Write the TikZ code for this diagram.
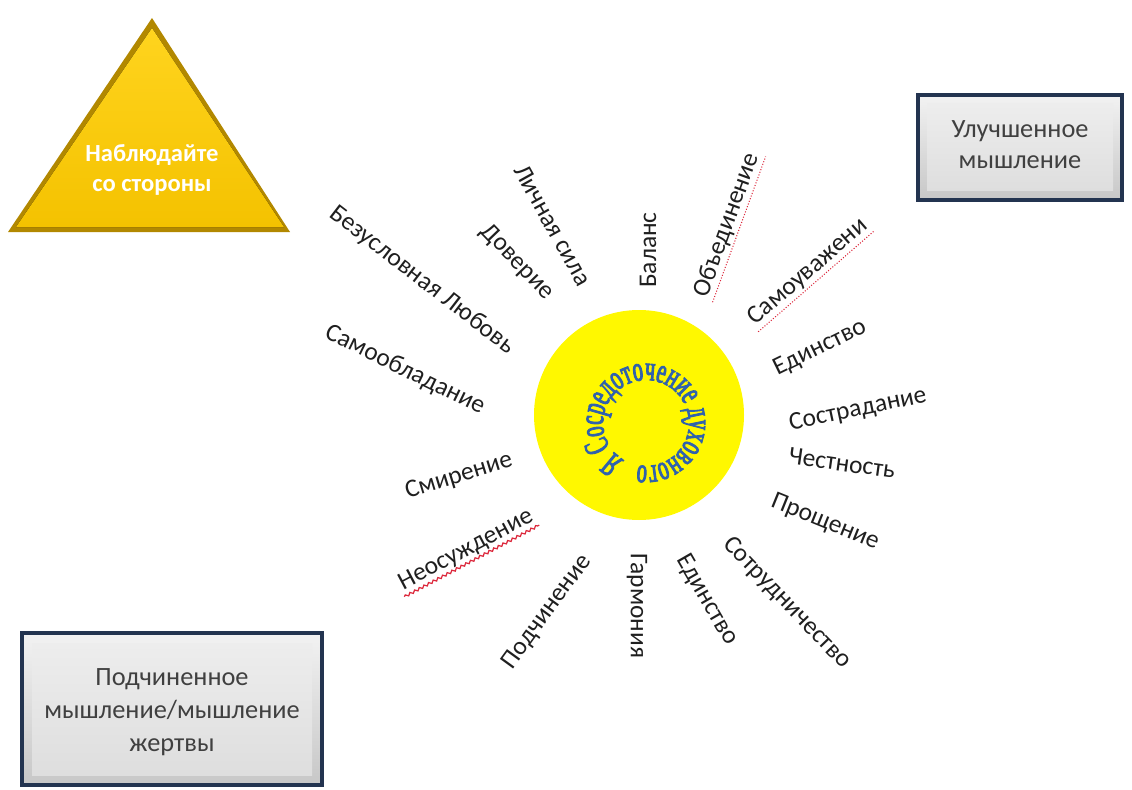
\documentclass[tikz,border=0pt]{standalone}
\usepackage{fontspec}
\setmainfont{Carlito}
\newfontfamily\circfont[FakeStretch=0.58,FakeBold=2.6]{Liberation Serif}
\usetikzlibrary{decorations.text,decorations.pathmorphing,calc}
\definecolor{gold}{RGB}{244,194,0}
\definecolor{goldlight}{RGB}{255,212,30}
\definecolor{golddark}{RGB}{178,136,0}
\definecolor{navy}{RGB}{35,52,80}
\definecolor{boxtext}{RGB}{64,64,64}
\definecolor{circblue}{RGB}{48,98,172}
\definecolor{sunyellow}{RGB}{255,248,0}
\definecolor{spellred}{RGB}{220,40,60}
\begin{document}
\begin{tikzpicture}[x=0.02cm,y=0.02cm,
  word/.style={font=\fontsize{14.5}{17}\selectfont, text=black!88, inner sep=1pt},
  boxtxt/.style={font=\fontsize{15}{17.5}\selectfont, text=boxtext, align=center},
  tritxt/.style={font=\bfseries\fontsize{14}{17}\selectfont, text=white, align=center},
  spelldot/.style={spellred, densely dotted, line width=0.6pt},
  spellwave/.style={spellred, line width=0.7pt, decorate, decoration={snake, amplitude=0.7pt, segment length=3pt}},
  bevelbox/.style={draw=navy, line width=2.4pt, top color=white!95!black, bottom color=black!22},
  boxface/.style={fill=black!10, top color=black!7, bottom color=black!13}]
\useasboundingbox (0,0) rectangle (1132,789);

% triangle
\coordinate (tA) at (152,771);
\coordinate (tB) at (8,557);
\coordinate (tC) at (290,557);
\fill[golddark] (tA) -- (tB) -- (tC) -- cycle;
\fill[top color=goldlight, bottom color=gold] (152,761) -- (16,562) -- (284,562) -- cycle;
\node[tritxt] (tri) at (152,619) {Наблюдайте\\со стороны};

% top right box
\draw[bevelbox] (918,589) rectangle (1122,694);
\fill[boxface] (927,598) rectangle (1113,685);
\draw[navy, line width=2.4pt] (918,589) rectangle (1122,694);
\node[boxtxt] (better) at (1020,644) {Улучшенное\\мышление};

% bottom left box
\draw[bevelbox] (22,4) rectangle (322,156);
\fill[boxface] (32,14) rectangle (312,146);
\draw[navy, line width=2.4pt] (22,4) rectangle (322,156);
\node[boxtxt, font=\fontsize{15}{18.7}\selectfont] (victim) at (172,77) {Подчиненное\\мышление/мышление\\жертвы};

% sun
\coordinate (C) at (639,374);
\coordinate (T) at (646,366);
\fill[sunyellow] (C) circle[radius=105];
\path[decorate, decoration={text along path, text align=center,
  text={|\circfont\fontsize{20}{20}\selectfont\color{circblue}|Я Сосредоточение духовного}}]
  (T) ++(244:43) arc[start angle=244, end angle=-106, radius=43];

% words
\node[word, rotate=90]    (w1)  at (648,539) {Баланс};
\node[word, rotate=70]    (w2)  at (727,564) {Объединение};
\node[word, rotate=41]    (w3)  at (808,517) {Самоуважени};
\node[word, rotate=26]    (w4)  at (820,441) {Единство};
\node[word, rotate=12]    (w5)  at (858,379) {Сострадание};
\node[word, rotate=-8]    (w6)  at (842,326) {Честность};
\node[word, rotate=-22]   (w7)  at (825,267) {Прощение};
\node[word, rotate=-46]   (w8)  at (787,186) {Сотрудничество};
\node[word, rotate=-60]   (w9)  at (707,189) {Единство};
\node[word, rotate=-90]   (w10) at (637,183) {Гармония};
\node[word, rotate=54]    (w11) at (547,177) {Подчинение};
\node[word, rotate=28]    (w12) at (466,239) {Неосуждение};
\node[word, rotate=17]    (w13) at (459,313) {Смирение};
\node[word, rotate=-26]   (w14) at (405,419) {Самообладание};
\node[word, rotate=-37.6] (w15) at (422,509) {Безусловная Любовь};
\node[word, rotate=-46]   (w16) at (517,527) {Доверие};
\node[word, rotate=-61]   (w17) at (553,564) {Личная сила};

% spell-check marks
\draw[spelldot] (w2.south west) -- (w2.south east);
\draw[spelldot] (w3.south west) -- (w3.south east);
\draw[spellwave] (w12.south west) -- (w12.south east);
\end{tikzpicture}
\end{document}
